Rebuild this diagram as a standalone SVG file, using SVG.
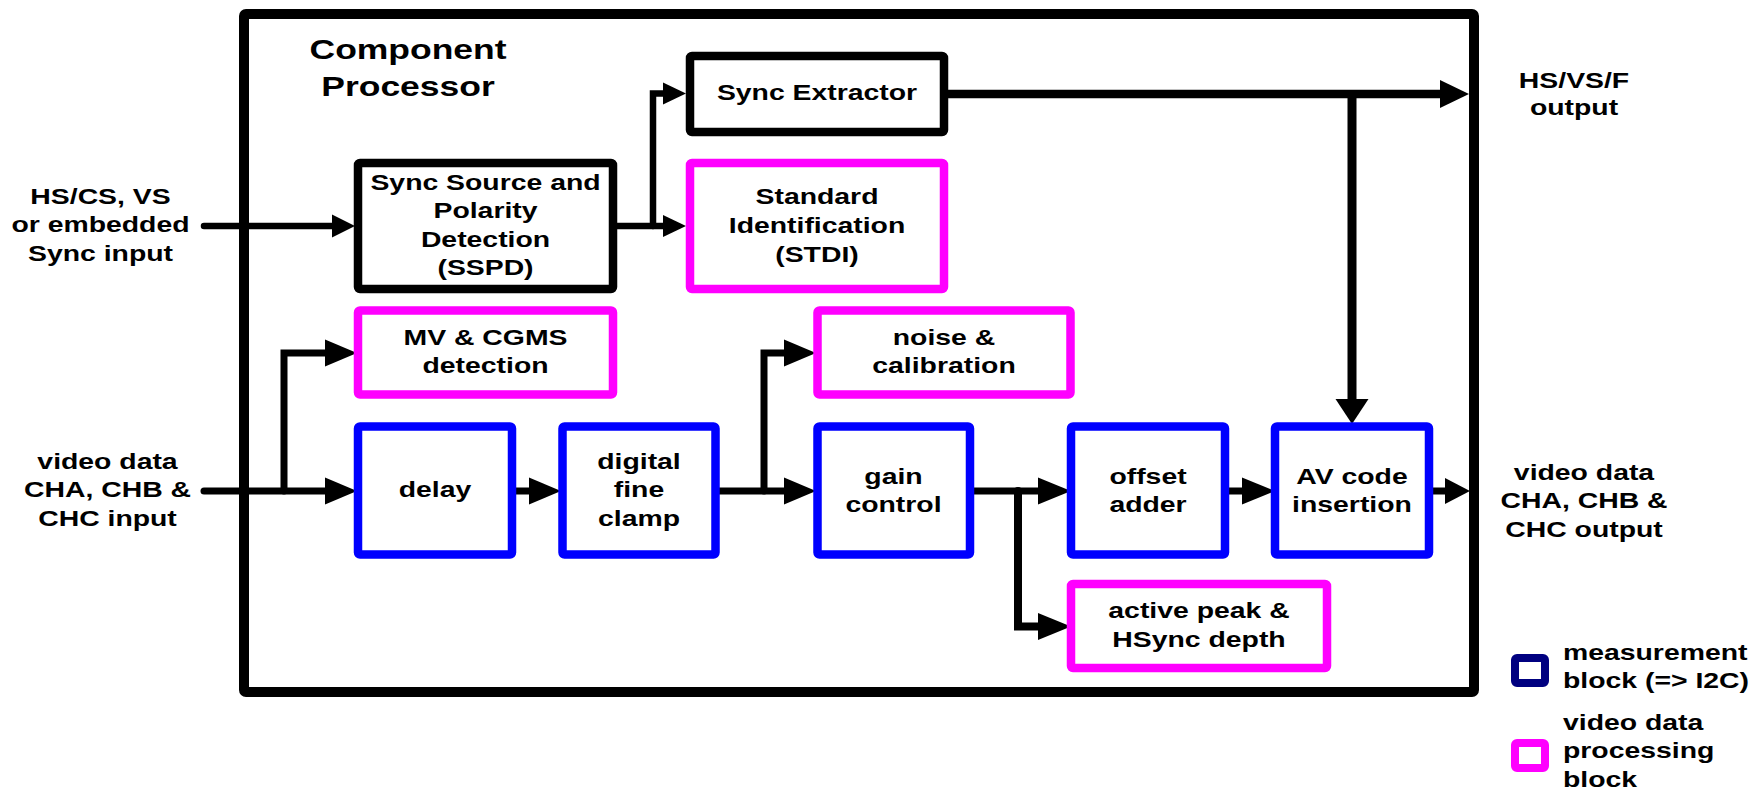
<svg xmlns="http://www.w3.org/2000/svg" width="1754" height="789" viewBox="0 0 1754 789">
<style>
.lbl{font-family:"Liberation Sans",Arial,Helvetica,sans-serif;font-weight:bold;font-size:22px;fill:#000;text-anchor:middle}
.ttl{font-size:27.5px}
.lft{text-anchor:start}
.box{fill:#fff;stroke-width:8.5;stroke-linejoin:round}
.blk{stroke:#000}
.blu{stroke:#0000ff}
.mag{stroke:#ff00ff}
.nav{stroke:#000080}
.ln{fill:none;stroke:#000;stroke-width:7;stroke-linecap:round;stroke-linejoin:miter}
.ah{fill:#000}
</style>
<rect width="1754" height="789" fill="#fff"/>

<g id="frame">
<rect x="244" y="14" width="1230" height="678" rx="2" fill="none" stroke="#000" stroke-width="10"/>
<text class="lbl ttl" transform="matrix(1.29 0 0 1 408 0)"><tspan x="0" y="59">Component</tspan><tspan x="0" y="96">Processor</tspan></text>
</g>

<g id="connectors">
<path class="ln" style="stroke-width:6.5" d="M204,226 H334"/>
<polygon class="ah" points="332,214.5 355,226 332,237.5"/>
<path class="ln" style="stroke-width:6.5" d="M617,226 H665"/>
<polygon class="ah" points="663,215 686,226 663,237"/>
<path class="ln" style="stroke-width:6.5" d="M653,226 V93.5 H665"/>
<polygon class="ah" points="663,82.5 686,93.5 663,104.5"/>
<path class="ln" style="stroke-width:8.5" d="M948,94 H1442"/>
<polygon class="ah" points="1440,80 1469,94 1440,108"/>
<path class="ln" style="stroke-width:9;stroke-linecap:butt" d="M1352,94 V401"/>
<polygon class="ah" points="1335.5,399 1368.5,399 1352,424"/>
<path class="ln" d="M204,491 H327"/>
<polygon class="ah" points="325,477.5 357,491 325,504.5"/>
<path class="ln" d="M284,491 V353 H327"/>
<polygon class="ah" points="325,339.5 357,353 325,366.5"/>
<path class="ln" d="M516,491 H531"/>
<polygon class="ah" points="529,477.5 561,491 529,504.5"/>
<path class="ln" d="M719,491 H786"/>
<polygon class="ah" points="784,477.5 816,491 784,504.5"/>
<path class="ln" d="M764,491 V353 H786"/>
<polygon class="ah" points="784,339.5 816,353 784,366.5"/>
<path class="ln" d="M974,491 H1040"/>
<polygon class="ah" points="1038,477.5 1071,491 1038,504.5"/>
<path class="ln" style="stroke-width:8" d="M1018,491 V626.5 H1040"/>
<polygon class="ah" points="1038,613 1071,626.5 1038,640"/>
<path class="ln" d="M1229,491 H1244"/>
<polygon class="ah" points="1242,477.5 1275,491 1242,504.5"/>
<path class="ln" d="M1433,491 H1447"/>
<polygon class="ah" points="1445,478 1470,491 1445,504"/>
</g>

<g id="sspd">
<rect class="box blk" x="358" y="163" width="255" height="126" rx="2"/>
<text class="lbl" transform="matrix(1.29 0 0 1 485.5 0)"><tspan x="0" y="190">Sync Source and</tspan><tspan x="0" y="218.5">Polarity</tspan><tspan x="0" y="247">Detection</tspan><tspan x="0" y="275">(SSPD)</tspan></text>
</g>

<g id="sync-extractor">
<rect class="box blk" x="690" y="56" width="254" height="76" rx="2"/>
<text class="lbl" transform="matrix(1.29 0 0 1 817 0)"><tspan x="0" y="100">Sync Extractor</tspan></text>
</g>

<g id="stdi">
<rect class="box mag" x="690" y="163" width="254" height="126" rx="2"/>
<text class="lbl" transform="matrix(1.29 0 0 1 817 0)"><tspan x="0" y="204">Standard</tspan><tspan x="0" y="233">Identification</tspan><tspan x="0" y="262">(STDI)</tspan></text>
</g>

<g id="mv-cgms">
<rect class="box mag" x="358" y="310.5" width="255" height="84" rx="2"/>
<text class="lbl" transform="matrix(1.29 0 0 1 485.5 0)"><tspan x="0" y="345">MV &amp; CGMS</tspan><tspan x="0" y="373">detection</tspan></text>
</g>

<g id="noise">
<rect class="box mag" x="817.5" y="310.5" width="253" height="84" rx="2"/>
<text class="lbl" transform="matrix(1.29 0 0 1 944 0)"><tspan x="0" y="345">noise &amp;</tspan><tspan x="0" y="373.5">calibration</tspan></text>
</g>

<g id="delay">
<rect class="box blu" x="358" y="426.5" width="154" height="128" rx="2"/>
<text class="lbl" transform="matrix(1.29 0 0 1 435 0)"><tspan x="0" y="497.5">delay</tspan></text>
</g>

<g id="fine-clamp">
<rect class="box blu" x="562.5" y="426.5" width="153" height="128" rx="2"/>
<text class="lbl" transform="matrix(1.29 0 0 1 639 0)"><tspan x="0" y="469">digital</tspan><tspan x="0" y="497.5">fine</tspan><tspan x="0" y="526">clamp</tspan></text>
</g>

<g id="gain">
<rect class="box blu" x="817.5" y="426.5" width="152.5" height="128" rx="2"/>
<text class="lbl" transform="matrix(1.29 0 0 1 893.5 0)"><tspan x="0" y="484">gain</tspan><tspan x="0" y="512.5">control</tspan></text>
</g>

<g id="offset">
<rect class="box blu" x="1071" y="426.5" width="154" height="128" rx="2"/>
<text class="lbl" transform="matrix(1.29 0 0 1 1148 0)"><tspan x="0" y="484">offset</tspan><tspan x="0" y="512.5">adder</tspan></text>
</g>

<g id="av-code">
<rect class="box blu" x="1275" y="426.5" width="154" height="128" rx="2"/>
<text class="lbl" transform="matrix(1.29 0 0 1 1352 0)"><tspan x="0" y="484">AV code</tspan><tspan x="0" y="512.5">insertion</tspan></text>
</g>

<g id="active-peak">
<rect class="box mag" x="1071" y="584" width="256" height="84" rx="2"/>
<text class="lbl" transform="matrix(1.29 0 0 1 1199 0)"><tspan x="0" y="618.5">active peak &amp;</tspan><tspan x="0" y="647.5">HSync depth</tspan></text>
</g>

<g id="sync-input">
<text class="lbl" transform="matrix(1.29 0 0 1 100.5 0)"><tspan x="0" y="204">HS/CS, VS</tspan><tspan x="0" y="232.5">or embedded</tspan><tspan x="0" y="261">Sync input</tspan></text>
</g>

<g id="video-input">
<text class="lbl" transform="matrix(1.29 0 0 1 107.5 0)"><tspan x="0" y="469">video data</tspan><tspan x="0" y="497.5">CHA, CHB &amp;</tspan><tspan x="0" y="526">CHC input</tspan></text>
</g>

<g id="sync-output">
<text class="lbl" transform="matrix(1.29 0 0 1 1574 0)"><tspan x="0" y="88.5">HS/VS/F</tspan><tspan x="0" y="115">output</tspan></text>
</g>

<g id="video-output">
<text class="lbl" transform="matrix(1.29 0 0 1 1584 0)"><tspan x="0" y="480">video data</tspan><tspan x="0" y="508.5">CHA, CHB &amp;</tspan><tspan x="0" y="537">CHC output</tspan></text>
</g>

<g id="legend-measurement">
<rect class="box nav" x="1515" y="658" width="30" height="25" rx="2" style="stroke-width:8"/>
<text class="lbl lft" transform="matrix(1.29 0 0 1 1563 0)"><tspan x="0" y="660">measurement</tspan><tspan x="0" y="688.5">block (=&gt; I2C)</tspan></text>
</g>

<g id="legend-processing">
<rect class="box mag" x="1515" y="743" width="30" height="25" rx="2" style="stroke-width:8"/>
<text class="lbl lft" transform="matrix(1.29 0 0 1 1563 0)"><tspan x="0" y="730">video data</tspan><tspan x="0" y="758.5">processing</tspan><tspan x="0" y="787">block</tspan></text>
</g>
</svg>
